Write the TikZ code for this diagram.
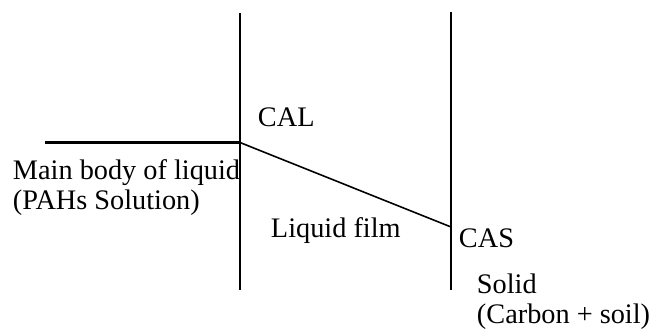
\documentclass[tikz,border=0pt]{standalone}
\usepackage{fontspec}
\setmainfont{Liberation Serif}
\begin{document}
\begin{tikzpicture}[line width=1.1pt,
    lbl/.style={anchor=base west, inner sep=0pt, font=\fontsize{16.1}{18}\selectfont}]
  \useasboundingbox (0,0) rectangle (13.14,6.58);
  % walls of the liquid film
  \coordinate (lt) at (4.80,6.32);
  \coordinate (lb) at (4.80,0.78);
  \coordinate (rt) at (9.02,6.34);
  \coordinate (rb) at (9.02,0.78);
  \draw (lt) -- (lb);
  \draw (rt) -- (rb);
  % concentration profile
  \coordinate (bulk) at (0.90,3.73);
  \coordinate (cal) at (4.80,3.73);
  \coordinate (cas) at (9.02,2.04);
  \draw[line width=1.7pt] (bulk) -- (cal);
  \draw[line width=0.9pt] (cal) -- (cas);
  \node[lbl] (calt) at (5.14,4.04) {CAL};
  \node[lbl] (main) at (0.24,3.00) {Main body of liquid};
  \node[lbl] (pahs) at (0.24,2.40) {(PAHs Solution)};
  \node[lbl] (film) at (5.40,1.84) {Liquid film};
  \node[lbl] (cast) at (9.16,1.64) {CAS};
  \node[lbl] (solid) at (9.52,0.72) {Solid};
  \node[lbl] (carb) at (9.52,0.12) {(Carbon + soil)};
\end{tikzpicture}
\end{document}
